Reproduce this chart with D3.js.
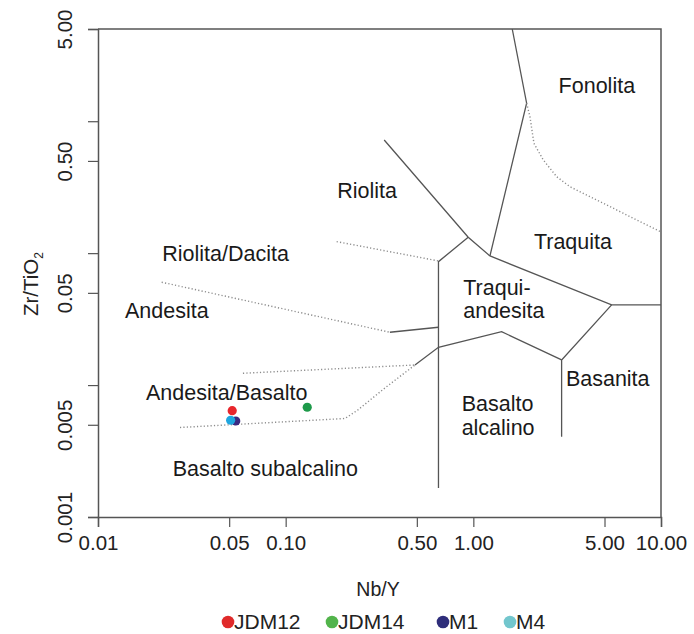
<!DOCTYPE html>
<html>
<head>
<meta charset="utf-8">
<script src="https://cdn.jsdelivr.net/npm/d3@7"></script>
<style>
  html, body { margin: 0; padding: 0; background: #fff; }
  svg { display: block; font-family: "Liberation Sans", Arial, sans-serif; }
</style>
</head>
<body>
<svg id="chart" width="694" height="634"></svg>
<script>
// Zr/TiO2 vs Nb/Y classification (Winchester & Floyd, 1977)

// Axis ticks
const xTicks = [0.01, 0.05, 0.1, 0.5, 1, 5, 10];
const xTickLabels = ["0.01", "0.05", "0.10", "0.50", "1.00", "5.00", "10.00"];
const yTicks = [5, 1, 0.5, 0.1, 0.05, 0.01, 0.005, 0.001];
const yTickLabels = ["5.00", "", "0.50", "", "0.05", "", "0.005", "0.001"];

// Field boundaries, solid (Nb/Y, Zr/TiO2)
const rhyoliteComenditeEdge = [[0.335, 0.721], [0.939, 0.132], [1.226, 0.0953]];
const phonoliteEdge = [[1.612, 5.0], [1.923, 1.369], [1.226, 0.0953]];
const trachyandesiteTop = [[0.939, 0.132], [0.652, 0.0862], [0.652, 0.00166]];
const trachyteBase = [[1.226, 0.0953], [5.456, 0.0405], [10, 0.0405]];
const basaniteEdge = [[5.456, 0.0405], [2.954, 0.0155], [2.954, 0.00406]];
const alkaliBasaltTop = [[2.954, 0.0155], [1.415, 0.0254], [0.652, 0.01935], [0.4886, 0.0142]];
const andesiteTrachyEdge = [[0.3594, 0.02514], [0.652, 0.02743]];

// Field boundaries, dotted
const phonoliteTrachyteEdge = [[1.923, 1.369], [2.003, 1.084], [2.103, 0.681], [2.357, 0.509],
  [2.779, 0.380], [3.271, 0.319], [4.539, 0.253], [6.289, 0.2007], [10, 0.1448]];
const rhyodaciteRhyoliteEdge = [[0.1869, 0.1223], [0.652, 0.0873]];
const andesiteRhyodaciteEdge = [[0.02184, 0.0602], [0.3594, 0.02514]];
const andesiteBasaltTop = [[0.0592, 0.01229], [0.4886, 0.0142]];
const subalkalineBasaltTop = [[0.02734, 0.00477], [0.207, 0.00558], [0.2427, 0.00648],
  [0.3381, 0.00951], [0.4886, 0.0142]];

const solidEdges = [rhyoliteComenditeEdge, phonoliteEdge, trachyandesiteTop, trachyteBase,
  basaniteEdge, alkaliBasaltTop, andesiteTrachyEdge];
const dottedEdges = [phonoliteTrachyteEdge, rhyodaciteRhyoliteEdge, andesiteRhyodaciteEdge,
  andesiteBasaltTop, subalkalineBasaltTop];

// Field names, anchored at the start of the first line
const fieldNames = [
  { lines: ["Fonolita"], x: 2.847, y: 1.63 },
  { lines: ["Riolita"], x: 0.1883, y: 0.2608 },
  { lines: ["Traquita"], x: 2.103, y: 0.1071 },
  { lines: ["Traqui-", "andesita"], x: 0.8835, y: 0.04819 },
  { lines: ["Basanita"], x: 3.113, y: 0.0099 },
  { lines: ["Basalto", "alcalino"], x: 0.8664, y: 0.00636 },
  { lines: ["Riolita/Dacita"], x: 0.02201, y: 0.08771 },
  { lines: ["Andesita"], x: 0.01392, y: 0.03209 },
  { lines: ["Andesita/Basalto"], x: 0.01802, y: 0.00771 },
  { lines: ["Basalto subalcalino"], x: 0.025, y: 0.002053 }
];

// Samples
const sampleNames = ["JDM12", "JDM14", "M1", "M4"];
const sampleNbY = [0.0519, 0.1303, 0.0542, 0.0509];
const sampleZrTi = [0.0064, 0.00679, 0.00534, 0.00541];
const sampleColors = ["#e8262c", "#1e9a4a", "#3b2a82", "#1fa6df"];
const legendColors = ["#e02a2a", "#52b44b", "#2e2d7a", "#72c6cd"];

const svg = d3.select("#chart");
const margin = { top: 29, right: 33, bottom: 117, left: 98 };
const W = 694, H = 634;

const x = d3.scaleLog().domain([0.01, 10]).range([margin.left, W - margin.right]);
const y = d3.scaleLog().domain([0.001, 5]).range([H - margin.bottom, margin.top]);

const axisColor = "#555";

// Frame (top and right)
svg.append("path")
  .attr("d", `M${x(0.01)},${y(5)}H${x(10)}V${y(0.001)}`)
  .attr("fill", "none").attr("stroke", axisColor).attr("stroke-width", 1.5);

// Axes
const xAxis = svg.append("g")
  .attr("transform", `translate(0,${y(0.001)})`)
  .call(d3.axisBottom(x).tickValues(xTicks).tickFormat((d, i) => xTickLabels[i]).tickSize(10).tickPadding(5));
const yAxis = svg.append("g")
  .attr("transform", `translate(${x(0.01)},0)`)
  .call(d3.axisLeft(y).tickValues(yTicks).tickFormat((d, i) => yTickLabels[i]).tickSize(10));

[xAxis, yAxis].forEach(g => {
  g.select(".domain").attr("stroke", axisColor).attr("stroke-width", 1.5);
  g.selectAll(".tick line").attr("stroke", axisColor).attr("stroke-width", 1.2);
  g.selectAll(".tick text").attr("fill", "#222").style("font-size", "20.5px")
    .style("font-family", "'Liberation Sans', Arial, sans-serif");
});
xAxis.selectAll(".tick text").attr("dy", "0.9em");
yAxis.selectAll(".tick text")
  .attr("x", null).attr("dy", null)
  .attr("text-anchor", "middle")
  .attr("transform", "translate(-26,0) rotate(-90)");

// Field boundaries
const line = d3.line().x(d => x(d[0])).y(d => y(d[1]));
svg.append("g").selectAll("path").data(solidEdges).join("path")
  .attr("d", line).attr("fill", "none").attr("stroke", "#555").attr("stroke-width", 1.3);
svg.append("g").selectAll("path").data(dottedEdges).join("path")
  .attr("d", line).attr("fill", "none").attr("stroke", "#8c8c8c").attr("stroke-width", 1.4)
  .attr("stroke-dasharray", "1.2 2.2");

// Field names
const names = svg.append("g").style("font-size", "21.5px").attr("fill", "#1a1a1a");
fieldNames.forEach(f => {
  const t = names.append("text").attr("x", x(f.x)).attr("y", y(f.y));
  f.lines.forEach((s, i) => t.append("tspan").attr("x", x(f.x)).attr("dy", i ? 23.5 : 0).text(s));
});

// Samples
svg.append("g").selectAll("circle").data(sampleNames).join("circle")
  .attr("cx", (d, i) => x(sampleNbY[i]))
  .attr("cy", (d, i) => y(sampleZrTi[i]))
  .attr("r", 4.6)
  .attr("fill", (d, i) => sampleColors[i]);

// Axis titles
svg.append("text").attr("x", 378).attr("y", 596).attr("text-anchor", "middle")
  .style("font-size", "19.5px").attr("fill", "#222").text("Nb/Y");
const yTitle = svg.append("text").attr("transform", "translate(38,284) rotate(-90)")
  .attr("text-anchor", "middle").style("font-size", "20.5px").attr("fill", "#222");
yTitle.append("tspan").text("Zr/TiO");
yTitle.append("tspan").attr("dy", 5).style("font-size", "12px").text("2");

// Legend
const legendX = [228, 332, 443, 510];
const legend = svg.append("g").selectAll("g").data(sampleNames).join("g")
  .attr("transform", (d, i) => `translate(${legendX[i]},622)`);
legend.append("circle").attr("r", 6.3).attr("fill", (d, i) => legendColors[i]);
legend.append("text").attr("x", 6).attr("y", 7).style("font-size", "21px")
  .attr("fill", "#222").text(d => d);
</script>
</body>
</html>
